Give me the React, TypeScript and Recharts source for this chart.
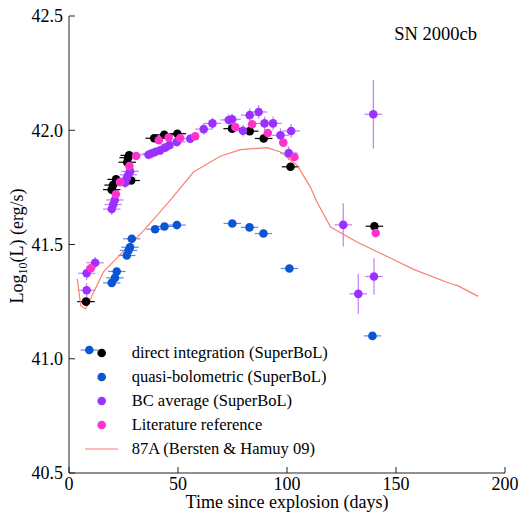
import React from "react";
import { ComposedChart, Scatter, XAxis, YAxis, ErrorBar, Label } from "recharts";

const FONT = '"Liberation Serif", "DejaVu Serif", serif';

// Values (days since explosion, log10 L in erg/s).
const directDays = [7.8, 19.6, 20.2, 21.6, 26.7, 27.1, 27.6, 28.5, 39.1, 43.7, 49.7, 74.8, 82.9, 89.3, 101.6, 140.1];
const directLum = [41.25, 41.74, 41.76, 41.785, 41.86, 41.88, 41.89, 41.78, 41.965, 41.98, 41.985, 42.007, 41.996, 41.964, 41.84, 41.58];

const quasiDays = [9.3, 19.6, 21.1, 21.9, 26.5, 27.3, 28.0, 28.8, 39.5, 43.8, 49.5, 74.9, 82.8, 89.2, 101.1, 139.2];
const quasiLum = [41.038, 41.332, 41.354, 41.382, 41.452, 41.474, 41.488, 41.525, 41.567, 41.579, 41.585, 41.592, 41.575, 41.548, 41.395, 41.1];

const bcDays = [
  8.1, 8.1, 12.0, 19.6, 20.3, 21.0, 25.8, 26.5, 27.2, 28.0, 36.5, 37.8, 39.5, 41.8, 44.1, 46.0, 49.5, 55.6, 61.8,
  65.8, 73.3, 74.8, 79.8, 82.9, 87.0, 89.7, 93.6, 97.0, 100.8, 101.9, 125.8, 132.7, 139.9, 139.6,
];
const bcLum = [
  41.3, 41.374, 41.42, 41.655, 41.675, 41.695, 41.77, 41.79, 41.805, 41.82, 41.893, 41.898, 41.905, 41.912, 41.924,
  41.935, 41.949, 41.963, 42.005, 42.03, 42.045, 42.048, 41.998, 42.066, 42.08, 42.03, 42.03, 41.978, 41.9, 41.997,
  41.586, 41.284, 41.36, 42.07,
];
const bcLumErr = [
  0.03, 0.03, 0.025, 0.025, 0.025, 0.025, 0.025, 0.025, 0.025, 0.025, 0.02, 0.02, 0.02, 0.02, 0.02, 0.02, 0.02, 0.02,
  0.025, 0.025, 0.025, 0.025, 0.025, 0.03, 0.03, 0.03, 0.03, 0.03, 0.03, 0.03, 0.095, 0.088, 0.08, 0.15,
];

const litDays = [10.0, 21.5, 23.4, 27.7, 30.8, 41.2, 45.7, 51.0, 57.9, 76.3, 84.0, 91.2, 98.3, 103.4, 140.7];
const litLum = [41.396, 41.72, 41.773, 41.843, 41.887, 41.956, 41.968, 41.966, 41.974, 42.014, 42.026, 41.988, 41.946, 41.883, 41.55];

const modelDays = [3.8, 5.4, 7.6, 15.8, 34.2, 46.4, 57.1, 69.4, 78.6, 90.9, 97.0, 104.7, 110.8, 113.5, 120.0, 132.3, 147.6, 158.3, 175.2, 178.3, 187.7];
const modelLum = [41.35, 41.232, 41.218, 41.38, 41.561, 41.693, 41.817, 41.886, 41.915, 41.924, 41.905, 41.846, 41.75, 41.69, 41.576, 41.51, 41.44, 41.39, 41.328, 41.32, 41.273];

const DAY_ERR = 4;
const xTicks = [0, 50, 100, 150, 200];
const yTicks = [40.5, 41.0, 41.5, 42.0, 42.5];

const COLORS = {
  direct: "#000000",
  quasi: "#0b55d5",
  quasiErr: "#5a8ae6",
  bc: "#9b30ff",
  bcErr: "#c27dff",
  lit: "#ff33cc",
  model: "#fa8072",
};

const LEGEND = [
  { label: "direct integration (SuperBoL)", color: COLORS.direct, kind: "dot" },
  { label: "quasi-bolometric (SuperBoL)", color: COLORS.quasi, kind: "dot" },
  { label: "BC average (SuperBoL)", color: COLORS.bc, kind: "dot" },
  { label: "Literature reference", color: COLORS.lit, kind: "dot" },
  { label: "87A (Bersten & Hamuy 09)", color: COLORS.model, kind: "line" },
];

const direct = directDays.map((t, i) => ({ t, l: directLum[i], xe: DAY_ERR }));
const quasi = quasiDays.map((t, i) => ({ t, l: quasiLum[i], xe: DAY_ERR }));
const bc = bcDays.map((t, i) => ({ t, l: bcLum[i], xe: DAY_ERR, ye: bcLumErr[i] }));
const lit = litDays.map((t, i) => ({ t, l: litLum[i] }));
const model = modelDays.map((t, i) => ({ t, l: modelLum[i] }));

const dot = (fill: string) => (p: any) => <circle cx={p.cx} cy={p.cy} r={4.3} fill={fill} />;
const noDot = () => <g />;
const blank = () => <g />;

const tickStyle = { fontFamily: FONT, fontSize: 18, fill: "#000" };
const axisLine = { stroke: "#222", strokeWidth: 1 };
const tickLine = { stroke: "#222", strokeWidth: 1 };

export default function App() {
  return (
    <div style={{ position: "absolute", left: 0, top: 0, width: 519, height: 516, background: "#fff" }}>
      <ComposedChart width={519} height={516} margin={{ top: 16, right: 14, bottom: 0, left: 0 }}>
        <XAxis
          dataKey="t"
          type="number"
          domain={[0, 200]}
          ticks={xTicks}
          height={43}
          tick={tickStyle}
          tickSize={-6}
          tickMargin={10}
          axisLine={axisLine}
          tickLine={tickLine}
          allowDataOverflow
        >
          <Label
            content={(props: any) => {
              const vb = props.viewBox;
              return (
                <text x={vb.x + vb.width / 2} y={vb.y + 35} textAnchor="middle" fontFamily={FONT} fontSize={18} fill="#000">
                  Time since explosion (days)
                </text>
              );
            }}
          />
        </XAxis>
        <XAxis
          xAxisId="top"
          orientation="top"
          type="number"
          domain={[0, 200]}
          ticks={xTicks}
          height={0}
          tick={blank}
          tickSize={-6}
          axisLine={axisLine}
          tickLine={tickLine}
        />
        <YAxis
          dataKey="l"
          type="number"
          domain={[40.5, 42.5]}
          ticks={yTicks}
          width={69}
          tick={tickStyle}
          tickFormatter={(v: number) => v.toFixed(1)}
          tickSize={-6}
          tickMargin={12}
          axisLine={axisLine}
          tickLine={tickLine}
          allowDataOverflow
        >
          <Label
            content={() => (
              <text transform="rotate(-90)" x={-246} y={23} textAnchor="middle" fontFamily={FONT} fontSize={18} fill="#000">
                Log
                <tspan fontSize={12} dy={4}>10</tspan>
                <tspan dy={-4}>(L) (erg/s)</tspan>
              </text>
            )}
          />
        </YAxis>
        <YAxis
          yAxisId="right"
          orientation="right"
          type="number"
          domain={[40.5, 42.5]}
          ticks={yTicks}
          width={0}
          tick={blank}
          tickSize={-6}
          axisLine={axisLine}
          tickLine={tickLine}
        />

        <Scatter
          name="87A (Bersten & Hamuy 09)"
          data={model}
          line={{ stroke: COLORS.model, strokeWidth: 1.2 }}
          lineType="joint"
          shape={noDot}
          isAnimationActive={false}
        />
        <Scatter name="direct integration (SuperBoL)" data={direct} shape={dot(COLORS.direct)} isAnimationActive={false}>
          <ErrorBar dataKey="xe" direction="x" width={0} stroke={COLORS.direct} strokeWidth={1.2} isAnimationActive={false} />
        </Scatter>
        <Scatter name="quasi-bolometric (SuperBoL)" data={quasi} shape={dot(COLORS.quasi)} isAnimationActive={false}>
          <ErrorBar dataKey="xe" direction="x" width={0} stroke={COLORS.quasiErr} strokeWidth={1.2} isAnimationActive={false} />
        </Scatter>
        <Scatter name="BC average (SuperBoL)" data={bc} shape={dot(COLORS.bc)} isAnimationActive={false}>
          <ErrorBar dataKey="xe" direction="x" width={0} stroke={COLORS.bcErr} strokeWidth={1.2} isAnimationActive={false} />
          <ErrorBar dataKey="ye" direction="y" width={0} stroke={COLORS.bcErr} strokeWidth={1.2} isAnimationActive={false} />
        </Scatter>
        <Scatter name="Literature reference" data={lit} shape={dot(COLORS.lit)} isAnimationActive={false} />
      </ComposedChart>

      <div
        style={{
          position: "absolute",
          right: 42,
          top: 22,
          textAlign: "right",
          fontFamily: FONT,
          fontSize: 18.5,
          lineHeight: "24px",
          whiteSpace: "nowrap",
        }}
      >
        SN 2000cb
      </div>

      <div style={{ position: "absolute", left: 80, top: 341, fontFamily: FONT, fontSize: 16.5, color: "#000" }}>
        {LEGEND.map((item) => (
          <div key={item.label} style={{ display: "flex", alignItems: "center", height: 24, whiteSpace: "nowrap" }}>
            <svg width={51.7} height={24} style={{ flex: "none" }}>
              {item.kind === "line" ? (
                <line x1={5} x2={38} y1={12} y2={12} stroke={item.color} strokeWidth={1.2} />
              ) : (
                <circle cx={21.7} cy={12} r={4.3} fill={item.color} />
              )}
            </svg>
            <span>{item.label}</span>
          </div>
        ))}
      </div>
    </div>
  );
}
